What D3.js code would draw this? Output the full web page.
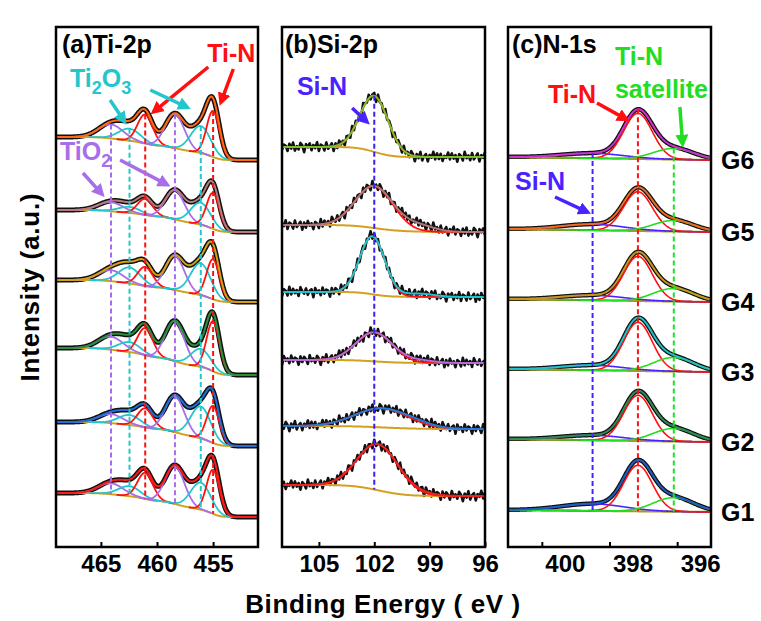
<!DOCTYPE html>
<html>
<head>
<meta charset="utf-8">
<script src="https://d3js.org/d3.v7.min.js"></script>
<style>
  body { margin: 0; background: #fff; }
  text { font-family: "Liberation Sans", Arial, sans-serif; font-weight: bold; }
</style>
</head>
<body>
<svg id="chart" width="761" height="621"></svg>
<script>
// ---- data (intensities in a.u., stacked; energies in eV) ----
var samples = ['G1', 'G2', 'G3', 'G4', 'G5', 'G6'];

// (a) Ti-2p : components TiO2, Ti2O3, TiN, TiO2, Ti2O3, TiN
var tiCentres = [464.1, 462.45, 461.05, 458.4, 456.1, 455.0];
var tiFwhm = [2.6, 2.3, 1.6, 2.0, 2.1, 1.35];
var tiCompColors = ['#a66ee8', '#22c6cc', '#ff1010', '#a66ee8', '#22c6cc', '#ff1010'];
var tiHeights = [
  [2.75, 2.5, 6.5, 9.5, 6.75, 11],
  [2.25, 2.5, 4.75, 9, 8, 9.25],
  [3.25, 2.5, 6.75, 10, 4.5, 12.5],
  [2.75, 4, 4.75, 8.5, 8, 10],
  [2.25, 1.5, 4, 7.25, 5.5, 9],
  [3.5, 3, 7.25, 8.5, 6.75, 11.5]
];
var tiBgLeft = [13.5, 31.25, 49.75, 66.75, 84.25, 102.5];
var tiBgRight = [7.5, 25.25, 43, 61.25, 78.75, 96.75];
var tiFitColors = ['#ff1a1a', '#1f6fd6', '#2a8f3a', '#d4a017', '#b97a7a', '#ff6a10'];

// (b) Si-2p : Si-N main peak + small low-BE tail
var siCentres = [101.8, 101.6, 102.0, 102.1, 102.0, 102.0];
var siHeights = [11.5, 4.75, 7.25, 14.5, 10.5, 14];
var siFwhm = [2.6, 3.4, 2.3, 1.6, 2.4, 1.8];
var siTailCentre = 99.6;
var siTailHeights = [0.4, 0.5, 0.6, 0.8, 1.5, 0];
var siBgLeft = [15.5, 30.25, 46.75, 63.75, 80.5, 100];
var siBgRight = [12.75, 29.5, 46, 62.5, 78.75, 97.5];
var siFitColors = ['#ee2222', '#2a7ad6', '#b86ad8', '#20c4cc', '#b07878', '#7cbf2a'];
// raw-data scatter around the fit, one value per 0.1 eV (read roughly)
var siNoise = [0.9, -0.6, 1.3, -0.2, 0.5, -1.1, 0.7, 0.2, -0.9, 1.2,
  -0.4, 0.6, -1.3, 0.3, 1.0, -0.7, 0.4, -0.3, 1.2, -1.0,
  0.2, 0.8, -0.5, 0.9, -1.2, 0.3, 0.6, -0.4, 1.1, -0.8,
  0.4, -0.2, 1.0, -1.3, 0.7, 0.3, -0.7, 0.9, -0.4, 0.2,
  1.2, -1.0, 0.5, -0.3, 0.8, -0.6, 1.3, -0.9, 0.3, 0.7,
  -1.1, 0.4, -0.2, 1.0, -0.7, 0.6, -1.2, 0.8, 0.1, -0.5,
  1.1, -0.9, 0.3, 0.6, -1.0, 1.2, -0.3, 0.5, -0.8, 0.9,
  -0.1, 0.7, -1.3, 0.4, 1.0, -0.6, 0.2, -0.9, 1.1, -0.4,
  0.8, -1.0, 0.3, 0.6, -0.7, 1.2, -0.2, 0.5, -1.1, 0.9,
  0.1, -0.6, 1.0, -0.8, 0.4, -0.3, 1.3, -0.9, 0.2, 0.7,
  -1.2, 0.5, -0.4, 0.9, -0.6, 1.1, -0.2, 0.3, -1.0, 0.8, -0.5];

// (c) N-1s : Si-N, Ti-N, Ti-N satellite
var nCentres = [398.5, 397.16, 396.1];
var nFwhm = [2.2, 1.0, 1.4];
var nCompColors = ['#4a22ff', '#ff1010', '#22dd22'];
var nHeights = [
  [1.75, 11.5, 3.5],
  [1.25, 11.4, 3.25],
  [1.25, 12.15, 3.5],
  [1.25, 11.15, 3.25],
  [1.5, 9.8, 2.75],
  [1.25, 11.4, 2.75]
];
var nBgLeft = [9.25, 27, 44.5, 62, 79.5, 97.5];
var nBgRight = [8.75, 26.25, 43.75, 61.25, 78.75, 96.75];
var nFitColors = ['#1f5fc0', '#2e8b57', '#22c0c8', '#c8961e', '#f06a20', '#d030d0'];

var bgColor = '#d4a020';
var olive = '#a89a28';

var svg = d3.select('#chart');
var defs = svg.append('defs');
var yScale = d3.scaleLinear().domain([0, 130]).range([547, 27]);

function gauss(e, c, h, w) {
  var s = (e - c) / w;
  return h * Math.exp(-4 * Math.LN2 * s * s);
}

// points from low to high BE; Shirley-like or linear background
function buildSpectrum(lo, hi, step, centres, heights, widths, bgL, bgR, shirley) {
  var pts = [];
  var n = Math.round((hi - lo) / step);
  for (var j = 0; j <= n; j++) {
    var e = lo + j * step;
    var comps = centres.map(function (c, k) { return gauss(e, c, heights[k], widths[k]); });
    pts.push({ e: e, comps: comps, sum: d3.sum(comps) });
  }
  var total = d3.sum(pts, function (d) { return d.sum; }), cum = 0;
  pts.forEach(function (p, i) {
    var frac;
    if (shirley) { cum += p.sum; frac = cum / total; } else { frac = i / (pts.length - 1); }
    p.bg = bgR + (bgL - bgR) * frac;
  });
  return pts;
}

function nearest(pts, e) {
  return pts.reduce(function (a, b) { return Math.abs(b.e - e) < Math.abs(a.e - e) ? b : a; });
}

function markerFor(color) {
  var id = 'arr' + color.replace('#', '');
  if (defs.select('#' + id).empty()) {
    defs.append('marker').attr('id', id)
      .attr('viewBox', '0 0 10 10').attr('refX', 7).attr('refY', 5)
      .attr('markerWidth', 13).attr('markerHeight', 13)
      .attr('markerUnits', 'userSpaceOnUse').attr('orient', 'auto')
      .append('path').attr('d', 'M0,0 L10,5 L0,10 z').attr('fill', color);
  }
  return 'url(#' + id + ')';
}

function makePanel(id, left, right, domain, ticks, labelShift) {
  var x = d3.scaleLinear().domain(domain).range([left, right]);
  var g = svg.append('g');
  defs.append('clipPath').attr('id', id)
    .append('rect').attr('x', left).attr('y', 27).attr('width', right - left).attr('height', 520);
  var plot = g.append('g').attr('clip-path', 'url(#' + id + ')');

  var axis = d3.axisBottom(x).tickValues(ticks).tickSize(-5).tickPadding(8).tickFormat(d3.format('d'));
  var ax = g.append('g').attr('transform', 'translate(0,547)').call(axis);
  ax.select('.domain').remove();
  ax.selectAll('line').attr('stroke', '#000').attr('stroke-width', 2);
  ax.selectAll('text').attr('font-size', 24).attr('fill', '#000').attr('font-family', null)
    .attr('dx', labelShift || 0);

  return { x: x, g: g, plot: plot, left: left, right: right };
}

function frame(p) {
  p.g.append('rect').attr('x', p.left).attr('y', 27)
    .attr('width', p.right - p.left).attr('height', 520)
    .attr('fill', 'none').attr('stroke', '#000').attr('stroke-width', 2.5);
}

function lineOf(p, acc) {
  return d3.line().x(function (d) { return p.x(d.e); }).y(function (d) { return yScale(acc(d)); });
}

function dashed(p, e, y0, y1, color) {
  p.plot.append('line')
    .attr('x1', p.x(e)).attr('x2', p.x(e))
    .attr('y1', yScale(y0)).attr('y2', yScale(y1))
    .attr('stroke', color).attr('stroke-width', 2).attr('stroke-dasharray', '5,3');
}

function label(p, txt, at, color) {
  p.g.append('text').attr('x', p.x(at[0])).attr('y', yScale(at[1]))
    .attr('fill', color).attr('font-size', 25).text(txt);
}

function subLabel(p, parts, at, color) {
  var t = p.g.append('text').attr('x', p.x(at[0])).attr('y', yScale(at[1]))
    .attr('fill', color).attr('font-size', 25);
  parts.forEach(function (s, k) {
    var ts = t.append('tspan').text(s);
    if (k % 2 === 1) ts.attr('font-size', 18).attr('dy', 7);
    else if (k > 0) ts.attr('dy', -7);
  });
}

function arrow(p, from, to, color) {
  p.g.append('line')
    .attr('x1', p.x(from[0])).attr('y1', yScale(from[1]))
    .attr('x2', p.x(to[0])).attr('y2', yScale(to[1]))
    .attr('stroke', color).attr('stroke-width', 3.5)
    .attr('marker-end', markerFor(color));
}

// ---------------- panel (a) Ti-2p ----------------
var pa = makePanel('clipA', 56, 258, [469, 451], [465, 460, 455]);
var tiSpectra = samples.map(function (s, i) {
  var pts = buildSpectrum(451, 469, 0.05, tiCentres, tiHeights[i], tiFwhm, tiBgLeft[i], tiBgRight[i], true);
  pa.plot.append('path').datum(pts).attr('fill', 'none').attr('stroke', '#111').attr('stroke-width', 5)
    .attr('d', lineOf(pa, function (d) { return d.bg + d.sum; }));
  pa.plot.append('path').datum(pts).attr('fill', 'none').attr('stroke', bgColor).attr('stroke-width', 2)
    .attr('d', lineOf(pa, function (d) { return d.bg; }));
  tiCentres.forEach(function (c, k) {
    var sub = pts.filter(function (d) { return Math.abs(d.e - c) < tiFwhm[k] * 1.6; });
    pa.plot.append('path').datum(sub).attr('fill', 'none').attr('stroke', tiCompColors[k]).attr('stroke-width', 1.8)
      .attr('d', lineOf(pa, function (d) { return d.bg + d.comps[k]; }));
  });
  pa.plot.append('path').datum(pts).attr('fill', 'none').attr('stroke', tiFitColors[i]).attr('stroke-width', 2)
    .attr('d', lineOf(pa, function (d) { return d.bg + d.sum; }));
  return pts;
});
tiCentres.forEach(function (c, k) {
  var top = nearest(tiSpectra[5], c), bot = nearest(tiSpectra[0], c);
  dashed(pa, c, top.bg + top.comps[k], bot.bg, tiCompColors[k]);
});
frame(pa);
pa.g.append('text').attr('x', 62).attr('y', 53).attr('font-size', 25).text('(a)Ti-2p');
label(pa, 'Ti-N', [455.52, 121.25], '#ff1010');
arrow(pa, [455.43, 120], [460.3, 108.8], '#ff1010');
arrow(pa, [453.2, 119.5], [454.3, 111.2], '#ff1010');
subLabel(pa, ['Ti', '2', 'O', '3'], [467.75, 115], '#22c6cc');
arrow(pa, [464.18, 111.75], [462.9, 106.4], '#22c6cc');
arrow(pa, [460.6, 114.25], [457.3, 109.9], '#22c6cc');
subLabel(pa, ['TiO', '2'], [468.64, 96.75], '#a66ee8');
arrow(pa, [466.6, 93.5], [464.9, 88.2], '#a66ee8');
arrow(pa, [463.29, 96.75], [459.1, 90.6], '#a66ee8');

// ---------------- panel (b) Si-2p ----------------
var pb = makePanel('clipB', 282, 485, [107, 96], [105, 102, 99, 96]);
var siSpectra = samples.map(function (s, i) {
  var cs = [siCentres[i], siTailCentre], hs = [siHeights[i], siTailHeights[i]], ws = [siFwhm[i], 2.0];
  var pts = buildSpectrum(96, 107, 0.05, cs, hs, ws, siBgLeft[i], siBgRight[i], true);
  var raw = buildSpectrum(96, 107, 0.1, cs, hs, ws, siBgLeft[i], siBgRight[i], true);
  raw.forEach(function (d, j) { d.noisy = d.bg + d.sum + siNoise[(j + i * 17) % siNoise.length]; });
  pb.plot.append('path').datum(raw).attr('fill', 'none').attr('stroke', '#111').attr('stroke-width', 2.6)
    .attr('stroke-linejoin', 'round')
    .attr('d', lineOf(pb, function (d) { return d.noisy; }));
  pb.plot.append('path').datum(pts).attr('fill', 'none').attr('stroke', bgColor).attr('stroke-width', 2)
    .attr('d', lineOf(pb, function (d) { return d.bg; }));
  pb.plot.append('path').datum(pts).attr('fill', 'none').attr('stroke', '#ff1010').attr('stroke-width', 1.8)
    .attr('d', lineOf(pb, function (d) { return d.bg + d.comps[0]; }));
  pb.plot.append('path').datum(pts).attr('fill', 'none').attr('stroke', siFitColors[i]).attr('stroke-width', 2)
    .attr('d', lineOf(pb, function (d) { return d.bg + d.sum; }));
  return pts;
});
(function () {
  var top = nearest(siSpectra[5], 102), bot = nearest(siSpectra[0], 102);
  dashed(pb, 102, top.bg + top.sum, bot.bg, '#3a22ee');
})();
frame(pb);
pb.g.append('text').attr('x', 285).attr('y', 53).attr('font-size', 25).text('(b)Si-2p');
label(pb, 'Si-N', [106.19, 113], '#4a22ff');
arrow(pb, [103.2, 109.75], [102.4, 106.3], '#4a22ff');

// ---------------- panel (c) N-1s ----------------
var pc = makePanel('clipC', 508, 711, [401, 395], [400, 398, 396], 23);
var nSpectra = samples.map(function (s, i) {
  var pts = buildSpectrum(395, 401, 0.02, nCentres, nHeights[i], nFwhm, nBgLeft[i], nBgRight[i], false);
  pc.plot.append('path').datum(pts).attr('fill', 'none').attr('stroke', '#111').attr('stroke-width', 4.5)
    .attr('d', lineOf(pc, function (d) { return d.bg + d.sum; }));
  pc.plot.append('path').datum(pts).attr('fill', 'none').attr('stroke', olive).attr('stroke-width', 2.2)
    .attr('d', lineOf(pc, function (d) { return d.bg; }));
  nCentres.forEach(function (c, k) {
    pc.plot.append('path').datum(pts).attr('fill', 'none').attr('stroke', nCompColors[k]).attr('stroke-width', 1.6)
      .attr('d', lineOf(pc, function (d) { return d.bg + d.comps[k]; }));
  });
  pc.plot.append('path').datum(pts).attr('fill', 'none').attr('stroke', nFitColors[i]).attr('stroke-width', 2)
    .attr('d', lineOf(pc, function (d) { return d.bg + d.sum; }));
  pc.g.append('text').attr('x', pc.right + 10).attr('y', yScale(nBgRight[i])).attr('dy', '0.35em')
    .attr('font-size', 25).text(s);
  return pts;
});
(function () {
  var t6 = nSpectra[5], b1 = nSpectra[0];
  var r = nearest(t6, nCentres[1]), gS = nearest(t6, nCentres[2]), si = nearest(t6, nCentres[0]);
  dashed(pc, nCentres[0], si.bg + si.sum, nearest(b1, nCentres[0]).bg, '#4a22ff');
  dashed(pc, nCentres[1], r.bg + r.sum, nearest(b1, nCentres[1]).bg, '#ff1010');
  dashed(pc, nCentres[2], gS.bg + gS.comps[2], nearest(b1, nCentres[2]).bg, '#22dd22');
})();
frame(pc);
pc.g.append('text').attr('x', 512).attr('y', 53).attr('font-size', 25).text('(c)N-1s');
label(pc, 'Ti-N', [399.82, 111], '#ff1010');
arrow(pc, [398.37, 111], [397.5, 106.9], '#ff1010');
label(pc, 'Ti-N', [397.84, 120.5], '#22dd22');
label(pc, 'satellite', [397.84, 112.25], '#22dd22');
arrow(pc, [395.92, 110], [395.84, 100.8], '#22dd22');
label(pc, 'Si-N', [400.79, 89.25], '#4a22ff');
arrow(pc, [399.61, 87.5], [398.65, 83.7], '#4a22ff');

// ---------------- axis titles ----------------
svg.append('text').attr('x', 383).attr('y', 613).attr('text-anchor', 'middle')
  .attr('font-size', 26).attr('letter-spacing', 0.6).text('Binding Energy ( eV )');
svg.append('text').attr('transform', 'translate(39,287) rotate(-90)').attr('text-anchor', 'middle')
  .attr('font-size', 26).attr('letter-spacing', 0.8).text('Intensity (a.u.)');
</script>
</body>
</html>
